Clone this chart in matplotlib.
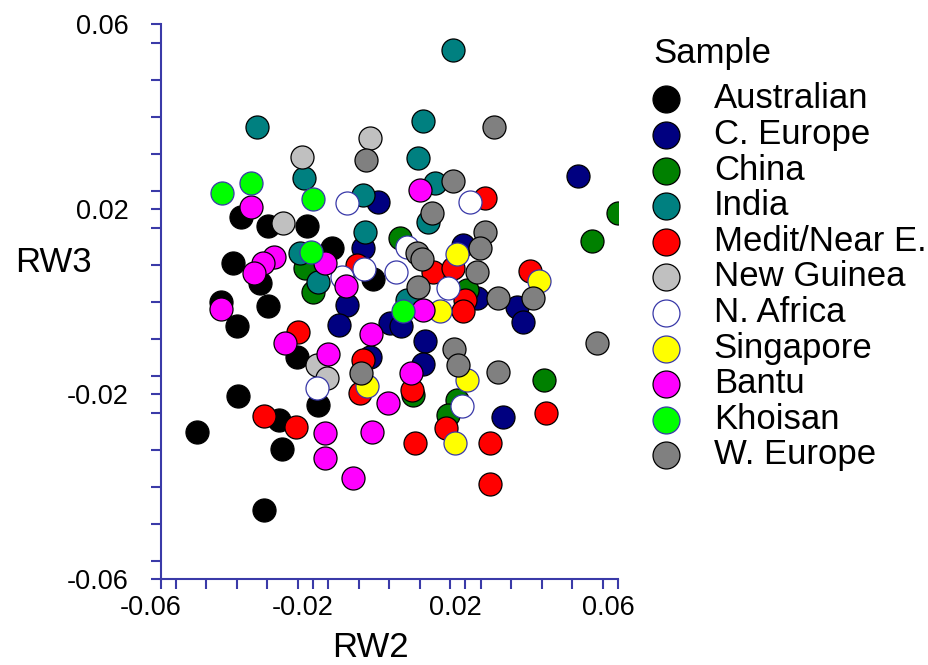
import matplotlib
matplotlib.use("Agg")
import matplotlib.pyplot as plt
import matplotlib.transforms as mtransforms
from matplotlib.ticker import FixedLocator, MultipleLocator
import numpy as np

plt.rcParams['font.family'] = ['Liberation Sans', 'DejaVu Sans']

# RW2 (x) / RW3 (y) scores per sample
australian_x = [-0.0389, -0.0318, -0.0215, -0.0410, -0.0339, -0.0441, -0.0318, -0.0399, -0.0242,
                -0.0397, -0.0289, -0.0504, -0.0281, -0.0328, -0.0186, -0.0150, -0.0042]
australian_y = [0.0183, 0.0163, 0.0163, 0.0083, 0.0040, -0.0001, -0.0010, -0.0053, -0.0120,
                -0.0204, -0.0256, -0.0282, -0.0319, -0.0451, -0.0224, 0.0116, 0.0049]

ceurope_x = [0.0494, -0.0029, -0.0068, 0.0194, 0.0231, 0.0336, 0.0352, -0.0110, -0.0131,
             0.0003, 0.0032, 0.0095, 0.0089, -0.0050, 0.0299]
ceurope_y = [0.0271, 0.0215, 0.0116, 0.0122, 0.0008, -0.0012, -0.0044, -0.0008, -0.0051,
             -0.0046, -0.0053, -0.0085, -0.0135, -0.0120, -0.0250]

china_x = [0.0599, 0.0533, 0.0029, -0.0221, -0.0200, 0.0205, 0.0407, 0.0179, 0.0155, 0.0063]
china_y = [0.0191, 0.0131, 0.0137, 0.0072, 0.0021, 0.0025, -0.0170, -0.0213, -0.0245, -0.0202]

india_x = [0.0168, -0.0347, 0.0089, 0.0076, -0.0223, -0.0068, 0.0121, 0.0102, -0.0063,
           -0.0234, -0.0186, 0.0047]
india_y = [0.0544, 0.0377, 0.0390, 0.0310, 0.0267, 0.0230, 0.0256, 0.0172, 0.0150,
           0.0105, 0.0042, 0.0003]

medit_x = [-0.0239, -0.0328, -0.0244, -0.0084, -0.0068, -0.0076, 0.0060, 0.0068, 0.0150,
           0.0116, 0.0168, 0.0200, 0.0194, 0.0252, 0.0370, 0.0410, 0.0263, 0.0265]
medit_y = [-0.0066, -0.0248, -0.0271, 0.0079, -0.0126, -0.0198, -0.0191, -0.0306, -0.0273,
           0.0064, 0.0072, 0.0003, -0.0021, 0.0224, 0.0066, -0.0241, -0.0306, -0.0395]

newguinea_x = [-0.0228, -0.0050, -0.0278, -0.0189, -0.0163]
newguinea_y = [0.0312, 0.0354, 0.0170, -0.0137, -0.0165]

nafrica_x = [-0.0110, 0.0213, 0.0047, -0.0066, -0.0123, 0.0018, 0.0155, -0.0189, 0.0192]
nafrica_y = [0.0213, 0.0215, 0.0118, 0.0070, 0.0053, 0.0064, 0.0029, -0.0187, -0.0226]

singapore_x = [0.0179, 0.0394, 0.0134, -0.0058, 0.0205, 0.0173]
singapore_y = [0.0103, 0.0044, -0.0021, -0.0183, -0.0170, -0.0306]

bantu_x = [-0.0362, -0.0302, -0.0331, -0.0355, -0.0441, -0.0168, -0.0113, -0.0273, -0.0047,
           0.0081, 0.0089, -0.0160, 0.0058, -0.0003, -0.0168, -0.0045, -0.0168, -0.0095]
bantu_y = [0.0204, 0.0096, 0.0083, 0.0062, -0.0016, 0.0083, 0.0034, -0.0090, -0.0070,
           0.0241, -0.0018, -0.0114, -0.0155, -0.0219, -0.0284, -0.0282, -0.0338, -0.0382]

khoisan_x = [-0.0439, -0.0362, -0.0200, -0.0205, 0.0037]
khoisan_y = [0.0235, 0.0256, 0.0222, 0.0107, -0.0021]

weurope_x = [0.0276, -0.0060, 0.0168, 0.0113, 0.0074, 0.0087, 0.0252, 0.0239, 0.0231,
             0.0076, 0.0286, 0.0376, 0.0544, 0.0171, 0.0181, 0.0286, -0.0074]
weurope_y = [0.0377, 0.0306, 0.0261, 0.0191, 0.0105, 0.0092, 0.0150, 0.0116, 0.0064,
             0.0031, 0.0008, 0.0008, -0.0090, -0.0103, -0.0137, -0.0152, -0.0155]

navy_edge = '#3838a8'
groups = [
    ("Australian", australian_x, australian_y, '#000000', '#000000'),
    ("C. Europe", ceurope_x, ceurope_y, '#000080', '#000000'),
    ("China", china_x, china_y, '#008000', '#000000'),
    ("India", india_x, india_y, '#008080', '#000000'),
    ("Medit/Near E.", medit_x, medit_y, '#ff0000', '#000000'),
    ("New Guinea", newguinea_x, newguinea_y, '#c0c0c0', '#000000'),
    ("N. Africa", nafrica_x, nafrica_y, '#ffffff', navy_edge),
    ("Singapore", singapore_x, singapore_y, '#ffff00', navy_edge),
    ("Bantu", bantu_x, bantu_y, '#ff00ff', '#000000'),
    ("Khoisan", khoisan_x, khoisan_y, '#00ff00', navy_edge),
    ("W. Europe", weurope_x, weurope_y, '#808080', '#000000'),
]

fig = plt.figure(figsize=(9.29, 6.65), dpi=100)
ax = fig.add_axes([0.1728, 0.1293, 0.4924, 0.8346])

for name, xs, ys, fc, ec in groups:
    ax.scatter(xs, ys, s=275, c=fc, edgecolors=ec, linewidths=0.9, label=name, zorder=3)

ax.set_xlim(-0.06, 0.06)
ax.set_ylim(-0.06, 0.06)

spine_col = '#3a3aa8'
for side in ['top', 'right']:
    ax.spines[side].set_visible(False)
for side in ['left', 'bottom']:
    ax.spines[side].set_color(spine_col)
    ax.spines[side].set_linewidth(1.5)

majors = [-0.06, -0.02, 0.02, 0.06]
ax.xaxis.set_major_locator(FixedLocator(majors))
ax.yaxis.set_major_locator(FixedLocator(majors))
ax.xaxis.set_minor_locator(MultipleLocator(0.008))
ax.yaxis.set_minor_locator(MultipleLocator(0.008))
ax.set_xticklabels(["-0.06", "-0.02", "0.02", "0.06"])
ax.set_yticklabels(["-0.06", "-0.02", "0.02", "0.06"])
ax.tick_params(which='both', direction='out', length=7.2, width=1.5, color=spine_col)
ax.tick_params(axis='y', which='major', labelsize=19.5, pad=16)
ax.tick_params(axis='x', which='major', labelsize=19.5, pad=4)

shift = mtransforms.ScaledTranslation(-0.10, 0, fig.dpi_scale_trans)
for lab in ax.get_xticklabels():
    lab.set_transform(lab.get_transform() + shift)

ax.set_ylabel("RW3", rotation=0, fontsize=25, ha='left', va='center')
ax.yaxis.set_label_coords(-0.318, 0.571)
ax.set_xlabel("RW2", fontsize=25, va='center')
ax.xaxis.set_label_coords(0.458, -0.124)

leg = ax.legend(title="Sample", loc='upper left', bbox_to_anchor=(0.703, 0.9445),
                bbox_transform=fig.transFigure, frameon=False, fontsize=25,
                title_fontsize=25, markerscale=1.17, handlelength=0.75,
                handletextpad=1.0, labelspacing=0.075, borderpad=0, borderaxespad=0,
                alignment='left')
# a bit more room between the title and the first entry
leg._legend_box.sep = 9

fig.savefig("out.png", dpi=100)
